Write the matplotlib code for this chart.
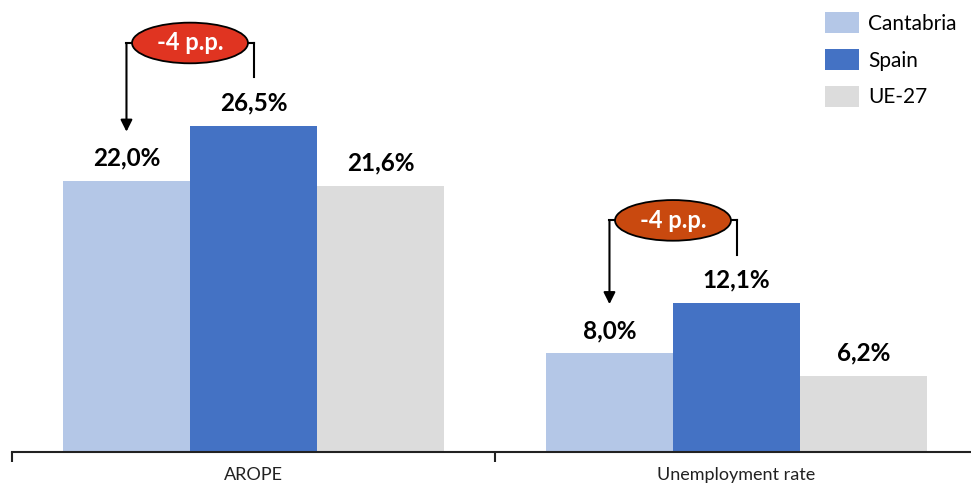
import matplotlib
matplotlib.use('Agg')
import matplotlib.pyplot as plt
from matplotlib.patches import Ellipse, Patch
import numpy as np

plt.rcParams['font.family'] = ['Lato', 'DejaVu Sans']

categories = ['AROPE', 'Unemployment rate']
series_names = ['Cantabria', 'Spain', 'UE-27']
cantabria = [22.0, 8.0]
spain = [26.5, 12.1]
ue27 = [21.6, 6.2]
gap_labels = ['-4 p.p.', '-4 p.p.']

colors = ['#B4C7E7', '#4472C4', '#DCDCDC']
oval_colors = ['#E03421', '#C9490F']

fig = plt.figure(figsize=(9.71, 4.88), dpi=100)
# axis spans slightly past the right edge like the source
ax = fig.add_axes([12 / 971, 36 / 488, 966 / 971, 369.6 / 488])

x = np.arange(len(categories))
width = 0.263
all_series = [cantabria, spain, ue27]
for i, (vals, name, col) in enumerate(zip(all_series, series_names, colors)):
    pos = x + (i - 1) * width
    ax.bar(pos, vals, width, color=col, label=name, clip_on=False)
    for xp, v in zip(pos, vals):
        ax.annotate(f'{v:.1f}%'.replace('.', ','), xy=(xp, v), xytext=(0, 16.5),
                    textcoords='offset points', ha='center', va='center',
                    fontsize=17.5, fontweight='bold', color='black',
                    annotation_clip=False)

# brackets with the gap in percentage points
for j in range(len(categories)):
    xl = x[j] - width
    xr = x[j]
    top = spain[j] + 6.7
    ax.plot([xr, xr], [spain[j] + 3.9, top], color='black', lw=1.5, clip_on=False)
    ax.plot([xl, xr], [top, top], color='black', lw=1.5, clip_on=False)
    ax.annotate('', xy=(xl, cantabria[j] + 4.0), xytext=(xl, top),
                arrowprops=dict(arrowstyle='-|>,head_width=0.35,head_length=0.7',
                                color='black', lw=1.5, shrinkA=0, shrinkB=0),
                annotation_clip=False)
    ell = Ellipse(((xl + xr) / 2, top), 0.24, 3.3, facecolor=oval_colors[j],
                  edgecolor='black', lw=1.3, clip_on=False, zorder=5)
    ax.add_patch(ell)
    ax.text((xl + xr) / 2, top, gap_labels[j], ha='center', va='center',
            color='white', fontsize=17, fontweight='bold', zorder=6)

ax.set_xlim(-0.5, 1.5)
ax.set_ylim(0, 30)
ax.set_yticks([])
for side in ['left', 'right', 'top']:
    ax.spines[side].set_visible(False)
ax.spines['bottom'].set_linewidth(1.5)
ax.spines['bottom'].set_color('#222222')

ax.set_xticks(x)
ax.set_xticklabels(categories, fontsize=13, color='#222222')
ax.tick_params(axis='x', which='major', length=0, pad=11)
ax.set_xticks([-0.5, 0.5, 1.5], minor=True)
ax.tick_params(axis='x', which='minor', length=7, width=1.5, color='#222222')

handles = [Patch(facecolor=c, label=n) for c, n in zip(colors, series_names)]
fig.legend(handles=handles, loc='upper left', bbox_to_anchor=(810 / 971, 1.005),
           frameon=False, fontsize=15, handlelength=1.63, handleheight=1.2,
           labelspacing=0.72, handletextpad=0.45, borderaxespad=0.3)

fig.savefig('out.png', dpi=100, facecolor='white')
